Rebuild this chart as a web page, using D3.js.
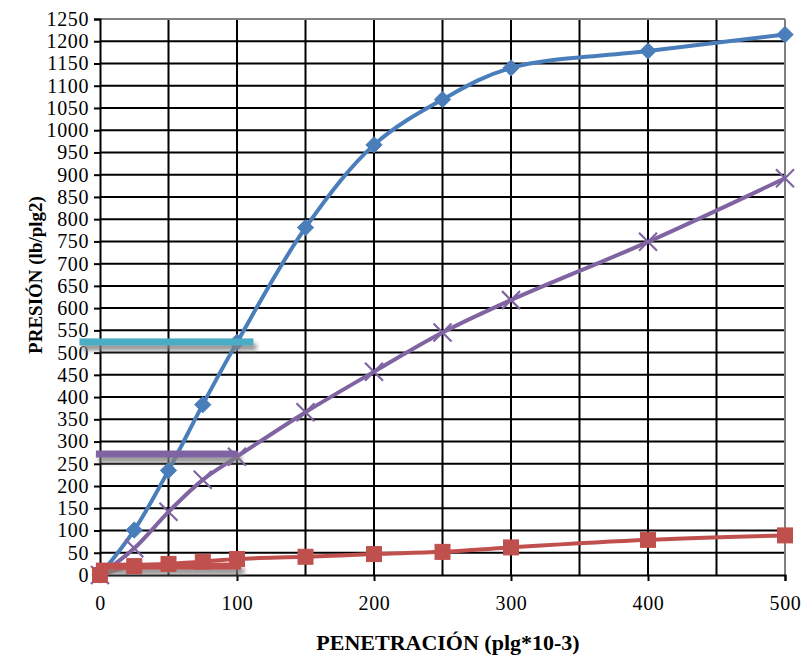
<!DOCTYPE html>
<html>
<head>
<meta charset="utf-8">
<script src="https://cdn.jsdelivr.net/npm/d3@7"></script>
<style>
  html, body { margin: 0; padding: 0; background: #fff; }
  svg { display: block; }
  text { font-family: "Liberation Serif", "Times New Roman", serif; fill: #000; }
</style>
</head>
<body>
<svg id="chart" width="807" height="656"></svg>
<script>
// Penetration (plg*10-3)
const penetration = [0, 25, 50, 75, 100, 150, 200, 250, 300, 400, 500];
// Pressure readings (lb/plg2) for each sample
const seriesBlue   = [0, 101, 235, 383, 523, 781, 967, 1069, 1140, 1178, 1215];
const seriesPurple = [0, 60, 142, 214, 266, 366, 457, 545, 618, 749, 892];
const seriesRed    = [0, 20, 25, 30, 36, 41, 47, 52, 62, 79, 89];
// Horizontal reference levels: [value, x start, x end]
const refCyan   = [524, -15, 112];
const refPurple = [272, -3, 101];
const refRed    = [20, -3, 103];

const xTicks = [0, 100, 200, 300, 400, 500];
const xGrid = d3.range(0, 501, 50);
const yTicks = d3.range(0, 1251, 50);

const svg = d3.select("#chart");
const margin = { left: 100, top: 19, right: 22, bottom: 81 };
const W = 807 - margin.left - margin.right;
const H = 656 - margin.top - margin.bottom;

const x = d3.scaleLinear().domain([0, 500]).range([0, W]);
const y = d3.scaleLinear().domain([0, 1250]).range([H, 0]);

const defs = svg.append("defs");
const shadow = defs.append("filter").attr("id", "shadow")
  .attr("filterUnits", "userSpaceOnUse")
  .attr("x", -50).attr("y", -50).attr("width", 900).attr("height", 760);
shadow.append("feDropShadow")
  .attr("dx", 3).attr("dy", 5).attr("stdDeviation", 2)
  .attr("flood-color", "#808080").attr("flood-opacity", 0.85);

const g = svg.append("g").attr("transform", `translate(${margin.left},${margin.top})`);

// grid
g.append("g").selectAll("line").data(yTicks.slice(1, -1)).join("line")
  .attr("x1", 0).attr("x2", W)
  .attr("y1", d => y(d)).attr("y2", d => y(d))
  .attr("stroke", "#000").attr("stroke-width", 2);
g.append("g").selectAll("line").data(xGrid.slice(1, -1)).join("line")
  .attr("x1", d => x(d)).attr("x2", d => x(d))
  .attr("y1", 0).attr("y2", H)
  .attr("stroke", "#000").attr("stroke-width", 2);

// frame: top and right in grey
g.append("line").attr("x1", 0).attr("x2", W).attr("y1", 0).attr("y2", 0)
  .attr("stroke", "#808080").attr("stroke-width", 2);
g.append("line").attr("x1", W).attr("x2", W).attr("y1", 0).attr("y2", H)
  .attr("stroke", "#808080").attr("stroke-width", 2);

// axes
const yAxis = d3.axisLeft(y).tickValues(yTicks).tickSize(6).tickPadding(5).tickFormat(d3.format("d"));
const yG = g.append("g").call(yAxis);
yG.select(".domain").attr("stroke", "#000").attr("stroke-width", 2);
yG.selectAll(".tick line").attr("stroke", "#000").attr("stroke-width", 2);
yG.selectAll(".tick text").attr("font-size", 20).attr("letter-spacing", 0.6).attr("fill", "#000");

const xAxis = d3.axisBottom(x).tickValues(xTicks).tickSize(6).tickPadding(15).tickFormat(d3.format("d"));
const xG = g.append("g").attr("transform", `translate(0,${H})`).call(xAxis);
xG.select(".domain").attr("stroke", "#000").attr("stroke-width", 2);
xG.selectAll(".tick line").attr("stroke", "#000").attr("stroke-width", 2);
xG.selectAll(".tick text").attr("font-size", 20).attr("letter-spacing", 0.6).attr("fill", "#000");

// series
const line = d3.line().x(d => x(d[0])).y(d => y(d[1])).curve(d3.curveCatmullRom.alpha(0.5));

function drawSeries(values, color) {
  const pts = penetration.map((p, i) => [p, values[i]]);
  g.append("path").datum(pts).attr("d", line)
    .attr("fill", "none").attr("stroke", color).attr("stroke-width", 4)
    .attr("stroke-linejoin", "round");
  return pts;
}

const bluePts = drawSeries(seriesBlue, "#4a7ebb");
const purplePts = drawSeries(seriesPurple, "#8064a2");
const redPts = drawSeries(seriesRed, "#c0504d");

// markers
g.append("g").selectAll("path").data(bluePts).join("path")
  .attr("transform", d => `translate(${x(d[0])},${y(d[1])})`)
  .attr("d", d3.symbol(d3.symbolDiamond2, 170))
  .attr("fill", "#4a7ebb").attr("stroke", "#4a7ebb").attr("stroke-width", 1);

g.append("g").selectAll("path").data(purplePts).join("path")
  .attr("transform", d => `translate(${x(d[0])},${y(d[1])})`)
  .attr("d", "M-9,-9L9,9M-9,9L9,-9")
  .attr("fill", "none").attr("stroke", "#8064a2").attr("stroke-width", 2.2);

// reference levels with soft shadow
function drawRef(ref, color) {
  g.append("rect")
    .attr("x", x(ref[1])).attr("width", x(ref[2]) - x(ref[1]))
    .attr("y", y(ref[0]) - 3.5).attr("height", 7)
    .attr("fill", color)
    .attr("filter", "url(#shadow)");
}
drawRef(refRed, "#c0504d");
drawRef(refPurple, "#8064a2");
drawRef(refCyan, "#4bacc6");

g.append("g").selectAll("rect").data(redPts).join("rect")
  .attr("x", d => x(d[0]) - 7.5).attr("y", d => y(d[1]) - 7.5)
  .attr("width", 15).attr("height", 15)
  .attr("fill", "#c0504d").attr("stroke", "#c0504d").attr("stroke-width", 1);

// axis titles
svg.append("text")
  .attr("x", 448).attr("y", 650)
  .attr("text-anchor", "middle").attr("font-weight", "bold").attr("font-size", 22)
  .text("PENETRACIÓN (plg*10-3)");

svg.append("text")
  .attr("transform", `translate(42,275) rotate(-90)`)
  .attr("text-anchor", "middle").attr("font-weight", "bold").attr("font-size", 19)
  .text("PRESIÓN (lb/plg2)");
</script>
</body>
</html>
